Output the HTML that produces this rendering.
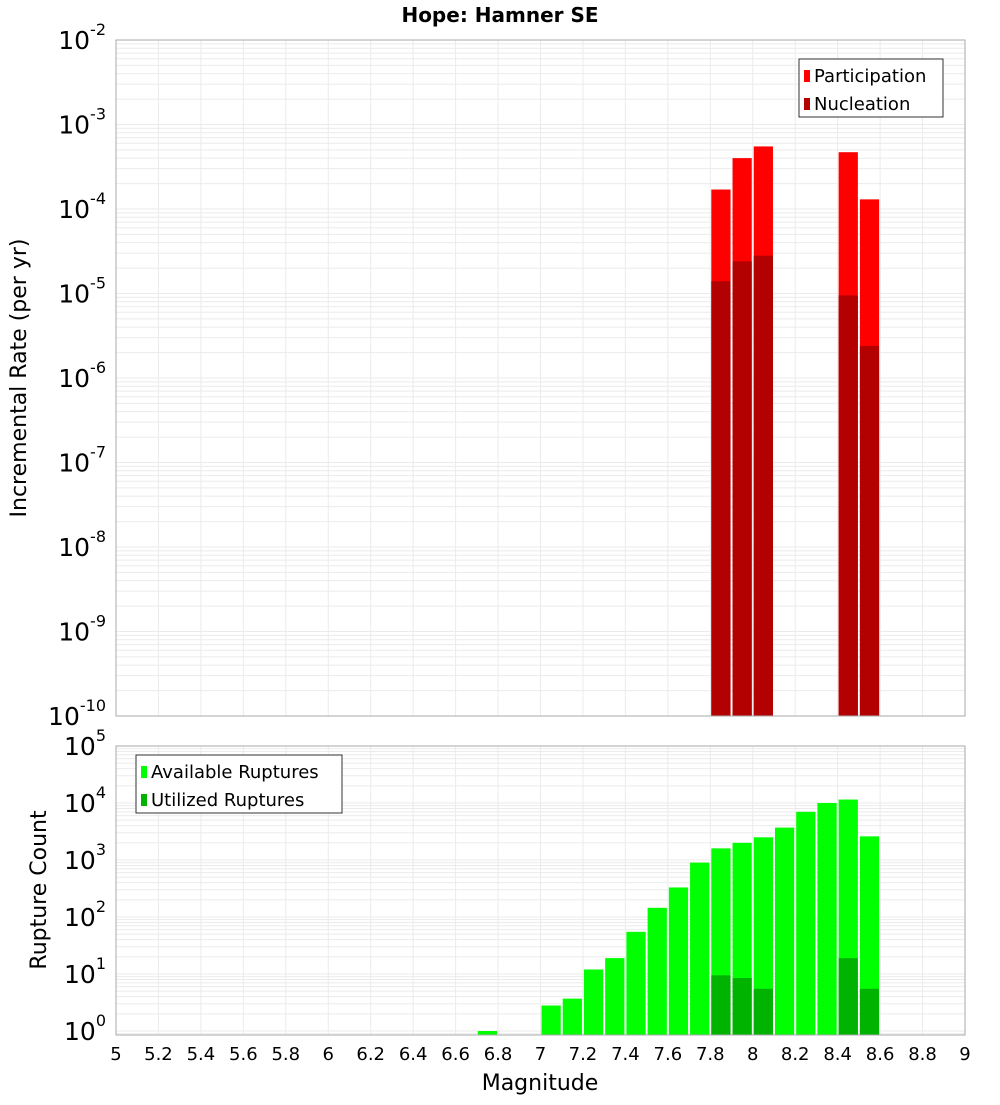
<!DOCTYPE html>
<html><head><meta charset="utf-8"><style>
body{margin:0;background:#fff;}
svg text{font-family:"DejaVu Sans","Liberation Sans",sans-serif;}
</style></head><body>
<svg id="c" width="1000" height="1100" xmlns="http://www.w3.org/2000/svg">
<text x="500" y="22" text-anchor="middle" font-size="20" font-weight="bold">Hope: Hamner SE</text>
<g id="topPanel"></g><g id="botPanel"></g>
<text transform="translate(26,378) rotate(-90)" text-anchor="middle" font-size="22">Incremental Rate (per yr)</text>
<text transform="translate(46,890) rotate(-90)" text-anchor="middle" font-size="22">Rupture Count</text>
<text x="540" y="1090" text-anchor="middle" font-size="22">Magnitude</text>
</svg>
<script>
const partMags=[7.85,7.95,8.05,8.45,8.55];
const partVals=[1.7e-4,4e-4,5.5e-4,4.7e-4,1.3e-4];
const nuclVals=[1.4e-5,2.4e-5,2.8e-5,9.5e-6,2.4e-6];
const availMags=[6.75,7.05,7.15,7.25,7.35,7.45,7.55,7.65,7.75,7.85,7.95,8.05,8.15,8.25,8.35,8.45,8.55];
const availVals=[1,2.8,3.7,12,19,55,145,330,900,1600,2000,2500,3700,7000,10000,11500,2600];
const utilMags=[7.85,7.95,8.05,8.45,8.55];
const utilVals=[9.5,8.5,5.5,19,5.5];
const xTicks=[5,5.2,5.4,5.6,5.8,6,6.2,6.4,6.6,6.8,7,7.2,7.4,7.6,7.8,8,8.2,8.4,8.6,8.8,9];
const topExps=[-2,-3,-4,-5,-6,-7,-8,-9,-10];
const botExps=[5,4,3,2,1,0];

const NS="http://www.w3.org/2000/svg";
const X0=116,X1=965;
const xs=m=>X0+(m-5)/4*(X1-X0);
const yTop=v=>40+(-2-Math.log10(v))*84.5;
const yBot=v=>746+(5-Math.log10(v))*57;
function el(p,t,a){const e=document.createElementNS(NS,t);for(const k in a)e.setAttribute(k,a[k]);p.appendChild(e);return e;}
function panel(g,yt,y0,y1,lo,hi,name){
  for(let e=lo;e<hi;e++)for(let k=1;k<10;k++){const y=yt(k*Math.pow(10,e));if(y<y0||y>y1)continue;
    const l=el(g,'line',{x1:X0,x2:X1,y1:y,y2:y,stroke:'#ebebeb','stroke-width':1});
    
    }
  xTicks.forEach(t=>{const x=xs(t);const l=el(g,'line',{x1:x,x2:x,y1:y0,y2:y1,stroke:'#ebebeb','stroke-width':1});
    
    });
}
const topG=document.getElementById('topPanel'),botG=document.getElementById('botPanel');
panel(topG,yTop,40,716,-10,-2,'top');
panel(botG,yBot,746,1035,-1,5,'bottom');
function bars(g,mags,vals,yt,yb,col,name){
  mags.forEach((m,i)=>{const x=xs(m-0.05)+1,w=xs(m+0.05)-xs(m-0.05)-2;const y=Math.max(yt(vals[i]),0);
    const r=el(g,'rect',{x:x,y:y,width:w,height:yb-y,fill:col});
    
    });
}
bars(topG,partMags,partVals,yTop,716,'#ff0000','participation');
bars(topG,partMags,nuclVals,yTop,716,'#b30000','nucleation');
bars(botG,availMags,availVals,yBot,1035,'#00ff00','available');
bars(botG,utilMags,utilVals,yBot,1035,'#00b300','utilized');
let f=el(topG,'rect',{x:X0,y:40,width:X1-X0,height:676,fill:'none',stroke:'#aaa'});


f=el(botG,'rect',{x:X0,y:746,width:X1-X0,height:289,fill:'none',stroke:'#aaa'});


function ylab(g,exps,yt,name){exps.forEach(e=>{const y=yt(Math.pow(10,e))+9;
  const t=el(g,'text',{x:106,y:y,'text-anchor':'end','font-size':25});
  
  
  const a=el(t,'tspan',{});a.textContent='10';const b=el(t,'tspan',{dy:-14,'font-size':16});b.textContent=String(e);});}
ylab(topG,topExps,yTop,'top');ylab(botG,botExps,yBot,'bottom');
xTicks.forEach(t=>{const x=el(botG,'text',{x:xs(t),y:1060,'text-anchor':'middle','font-size':18});
  x.textContent=String(t);
  
  });
function legend(g,x,y,w,items,name){const b=el(g,'rect',{x:x,y:y,width:w,height:58,fill:'#fff',stroke:'#333'});
  
  
  items.forEach((it,i)=>{const r=el(g,'rect',{x:x+5,y:y+11+i*28,width:6,height:12,fill:it[1]});
    
    
    const t=el(g,'text',{x:x+15,y:y+23+i*28,'font-size':18});t.textContent=it[0];
    
    });}
legend(topG,799,59,144,[['Participation','#ff0000'],['Nucleation','#b30000']],'top-legend');
legend(botG,136,755,206,[['Available Ruptures','#00ff00'],['Utilized Ruptures','#00b300']],'bottom-legend');
</script>
</body></html>
